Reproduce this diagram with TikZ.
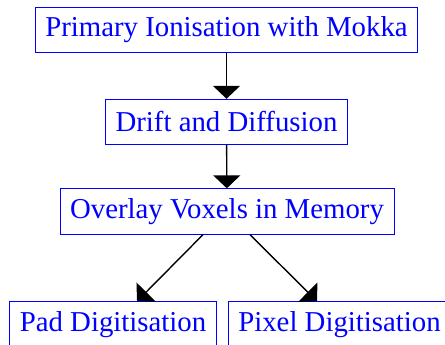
\documentclass[tikz,border=0pt]{standalone}
\usepackage{fontspec}
\setmainfont{Liberation Serif}
\usetikzlibrary{arrows.meta}

\begin{document}
\begin{tikzpicture}[
  stagebox/.style={draw=blue, line width=0.8pt, text=blue, inner xsep=10pt, inner ysep=0pt,
    minimum height=1.600cm, font=\fontsize{28.8}{34}\selectfont},
  flowarrow/.style={line width=1.4pt, -{Triangle[length=13pt,width=27pt]}}]
\useasboundingbox (0,0) rectangle (15.640,12.125);
\node[stagebox] (mokka) at (7.961,11.071) {Primary Ionisation with Mokka};
\node[stagebox] (drift) at (7.961,7.838) {Drift and Diffusion};
\node[stagebox] (voxels) at (7.978,4.692) {Overlay Voxels in Memory};
\node[stagebox] (pad) at (3.972,0.720) {Pad Digitisation};
\node[stagebox] (pixel) at (11.932,0.720) {Pixel Digitisation};
\draw[flowarrow] (mokka) -- (drift);
\draw[flowarrow] (drift) -- (voxels);
\draw[flowarrow] ([xshift=-0.844cm]voxels.south) -- ([xshift=0.844cm]pad.north);
\draw[flowarrow] ([xshift=0.808cm]voxels.south) -- ([xshift=-0.790cm]pixel.north);
\end{tikzpicture}
\end{document}
